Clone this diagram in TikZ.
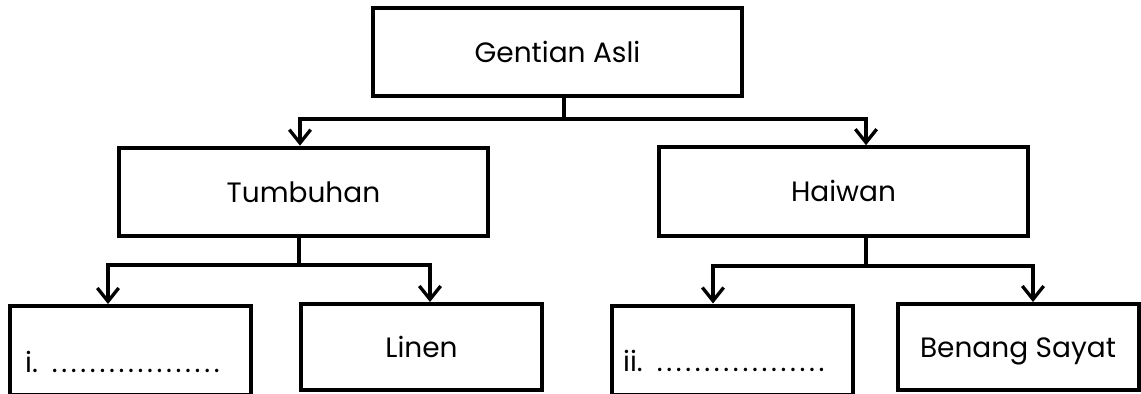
\documentclass[tikz,border=0pt]{standalone}
\usepackage{fontspec}
\setmainfont{Poppins}
\usetikzlibrary{arrows.meta}

\begin{document}
\begin{tikzpicture}[x=0.75pt, y=-0.75pt,
    box/.style    = {draw, line width=3pt, inner sep=0pt, text height=15pt, text depth=0pt,
                     font=\fontsize{21}{24}\selectfont},
    wide/.style   = {box, minimum width=277pt, minimum height=66.5pt},
    narrow/.style = {box, minimum width=180.75pt, minimum height=64.5pt},
    blank/.style  = {narrow, text width=164pt, align=left, inner xsep=8.4pt,
                     text height=49.5pt, text depth=17.25pt},
    wire/.style   = {line width=2.5pt},
    arr/.style    = {wire, -{Straight Barb[length=10pt,width=16pt,line width=2.5pt]}}]
\useasboundingbox (0,0) rectangle (1141,393);
\node (ga) [wide]   at (557.5,52)    {Gentian Asli};
\node (tb) [wide]   at (303.5,192)   {Tumbuhan};
\node (hw) [wide]   at (843.5,191.5) {Haiwan};
\node (i1) [blank]  at (130.5,350.5) {\hspace{3pt}i. {\addfontfeature{LetterSpace=13}..................}};
\node (ln) [narrow] at (421.5,347)   {Linen};
\node (i2) [blank]  at (732.5,350)   {ii. {\addfontfeature{LetterSpace=13}..................}};
\node (bs) [narrow] at (1018,347)    {Benang Sayat};
%
\coordinate (j0) at (564,119);
\coordinate (j1) at (299,265);
\coordinate (j2) at (866,266);
\coordinate (k1) at (300,119);
\coordinate (k2) at (866,119);
\coordinate (k3) at (108,265);
\coordinate (k4) at (430,265);
\coordinate (k5) at (713,266);
\coordinate (k6) at (1033,266);
%
\foreach \p/\j in {ga/j0, tb/j1, hw/j2}
    \draw[wire] (\p.south -| \j) -- (\j);
\foreach \j/\k/\c in {j0/k1/tb, j0/k2/hw, j1/k3/i1, j1/k4/ln, j2/k5/i2, j2/k6/bs}
    \draw[arr] (\j) -- (\k) -- (\k |- \c.north);
\end{tikzpicture}
\end{document}
